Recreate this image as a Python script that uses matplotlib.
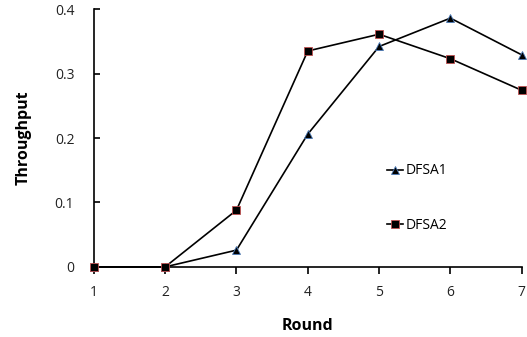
import matplotlib
matplotlib.use('Agg')
import matplotlib.pyplot as plt

rounds = [1, 2, 3, 4, 5, 6, 7]
dfsa1 = [0, 0, 0.026, 0.206, 0.342, 0.386, 0.329]
dfsa2 = [0, 0, 0.088, 0.335, 0.361, 0.323, 0.274]

plt.rcParams['font.family'] = ['Open Sans', 'DejaVu Sans']

fig = plt.figure( figsize = ( 5.27, 3.37 ), dpi = 100 )
ax = fig.add_axes( [ 0.178, 0.208, 0.812, 0.765 ] )

ax.plot( rounds, dfsa1, color = 'black', lw = 1.2, marker = '^', ms = 6,
         mfc = 'black', mec = '#4a7ab8', mew = 0.6, label = 'DFSA1', clip_on = False, zorder = 3 )
ax.plot( rounds, dfsa2, color = 'black', lw = 1.2, marker = 's', ms = 6,
         mfc = 'black', mec = '#c05050', mew = 0.6, label = 'DFSA2', clip_on = False, zorder = 3 )

ax.set_xlim( 1, 7 )
ax.set_ylim( 0, 0.4 )
ax.set_xticks( rounds )
ax.set_yticks( [ 0, 0.1, 0.2, 0.3, 0.4 ] )
ax.set_yticklabels( [ '0', '0.1', '0.2', '0.3', '0.4' ] )

for s in [ 'top', 'right' ]:
    ax.spines[ s ].set_visible( False )
for s in [ 'left', 'bottom' ]:
    ax.spines[ s ].set_linewidth( 1.2 )

ax.tick_params( axis = 'x', direction = 'out', length = 5, width = 1.2, labelsize = 10, pad = 8, labelcolor = '#222222' )
ax.tick_params( axis = 'y', direction = 'in', length = 4, width = 1.2, labelsize = 10, pad = 14, labelcolor = '#222222' )

ax.set_xlabel( 'Round', fontsize = 11.5, fontweight = 'bold', labelpad = 13 )
ax.set_ylabel( 'Throughput', fontsize = 11.5, fontweight = 'bold', labelpad = 17 )

ax.legend( loc = 'upper left', bbox_to_anchor = ( 0.655, 0.45 ), frameon = False,
           handlelength = 1.2, handletextpad = 0.15, labelspacing = 2.85, fontsize = 10,
           markerscale = 0.85 )

fig.savefig( 'out.png', dpi = 100 )
